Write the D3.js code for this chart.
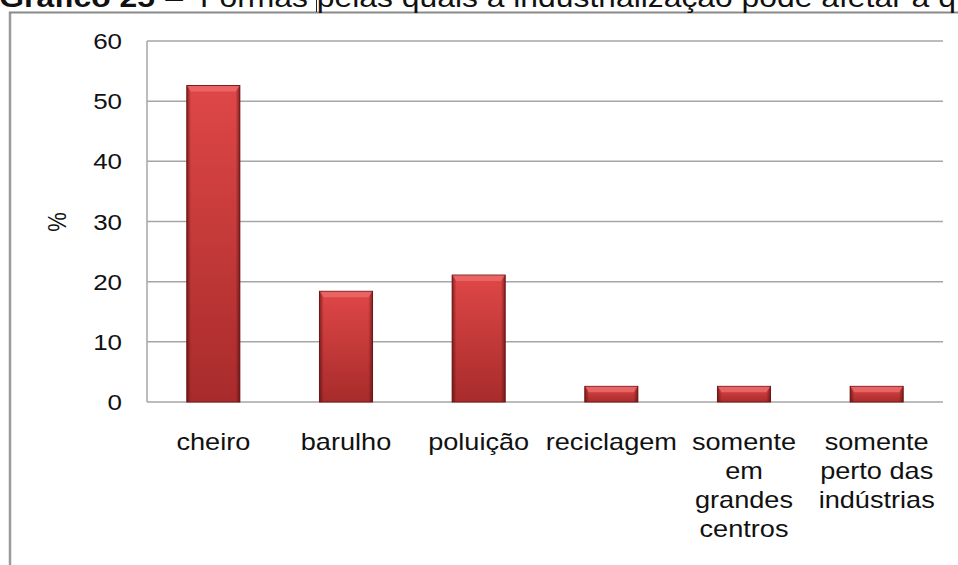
<!DOCTYPE html>
<html><head><meta charset="utf-8">
<script src="https://cdn.jsdelivr.net/npm/d3@7"></script>
<style>body{margin:0;background:#fff}svg{display:block}text{font-family:"Liberation Sans",Arial,sans-serif;fill:#111}</style>
</head><body><svg id="c" width="958" height="565"></svg>
<script>
const categories = ["cheiro","barulho","poluição","reciclagem","somente em grandes centros","somente perto das indústrias"];
const categoryLines = [["cheiro"],["barulho"],["poluição"],["reciclagem"],["somente","em","grandes","centros"],["somente","perto das","indústrias"]];
const values = [52.6, 18.4, 21.1, 2.6, 2.6, 2.6];
const yTicks = [0,10,20,30,40,50,60];
const titleBold = "Gráfico 25";
const titleRest = "Formas pelas quais a industrialização pode afetar a q";

const svg = d3.select("#c");
const SX = 1.18;
const defs = svg.append("defs");
const gv = defs.append("linearGradient").attr("id","gv").attr("x1",0).attr("y1",0).attr("x2",0).attr("y2",1);
gv.append("stop").attr("offset",0).attr("stop-color","#df4747");
gv.append("stop").attr("offset",1).attr("stop-color","#a82b2b");
const gh = defs.append("linearGradient").attr("id","gh").attr("x1",0).attr("y1",0).attr("x2",1).attr("y2",0);
[[0,0.6],[0.08,0],[0.92,0],[1,0.6]].forEach(([o,a])=>gh.append("stop").attr("offset",o).attr("stop-color","#4a0a0a").attr("stop-opacity",a));

// frame
svg.append("line").attr("x1",10).attr("x2",10).attr("y1",12).attr("y2",565).attr("stroke","#9a9a9a").attr("stroke-width",2.5);
svg.append("line").attr("x1",9).attr("x2",958).attr("y1",12.5).attr("y2",12.5).attr("stroke","#8a8a8a").attr("stroke-width",2);
svg.append("line").attr("x1",316.5).attr("x2",316.5).attr("y1",0).attr("y2",12).attr("stroke","#222").attr("stroke-width",1);

// title (cut off at the top edge, as in the reference)
const tg = svg.append("g");
tg.append("text").attr("transform",`translate(155,7) scale(${SX},1)`).attr("text-anchor","end").attr("font-size",27).attr("font-weight","bold").text(titleBold);
tg.append("text").attr("transform",`translate(174,7) scale(${SX},1)`).attr("text-anchor","middle").attr("font-size",27).text("–");
tg.append("text").attr("transform",`translate(200,7) scale(${SX},1)`).attr("font-size",27).text(titleRest);

const x = d3.scaleBand().domain(categories).range([147,943]).paddingInner(0.6).paddingOuter(0.3);
const y = d3.scaleLinear().domain([0,60]).range([402,41]);

// gridlines
svg.append("g").selectAll("line").data(yTicks).join("line")
  .attr("x1",147).attr("x2",943).attr("y1",d=>y(d)).attr("y2",d=>y(d))
  .attr("stroke","#a6a6a6").attr("stroke-width",1.5);
svg.append("line").attr("x1",147).attr("x2",147).attr("y1",y(60)).attr("y2",y(0)).attr("stroke","#a6a6a6").attr("stroke-width",1.5);

// y labels
svg.append("g").selectAll("text").data(yTicks).join("text")
  .attr("transform",d=>`translate(122,${y(d)+8}) scale(${SX},1)`).attr("text-anchor","end").attr("font-size",22).text(d=>d);
svg.append("text").attr("transform",`translate(66,222) rotate(-90) scale(1,${SX})`).attr("text-anchor","middle").attr("font-size",22).text("%");

// bars
const bw = x.bandwidth();
const bars = svg.append("g").selectAll("g").data(categories).join("g");
bars.append("rect").attr("x",d=>x(d)).attr("y",(d,i)=>y(values[i])).attr("width",bw).attr("height",(d,i)=>y(0)-y(values[i]))
  .attr("fill","url(#gv)").attr("stroke","#7a1c1c").attr("stroke-width",1);
bars.append("rect").attr("x",d=>x(d)).attr("y",(d,i)=>y(values[i])).attr("width",bw).attr("height",(d,i)=>y(0)-y(values[i]))
  .attr("fill","url(#gh)");
bars.append("path").attr("d",(d,i)=>{const x0=x(d),y0=y(values[i]),h=Math.min(6,(y(0)-y0)/2.5);return `M${x0+0.5},${y0+0.5}L${x0+bw-0.5},${y0+0.5}L${x0+bw-4},${y0+h}L${x0+4},${y0+h}Z`;})
  .attr("fill","#ec6a6a").attr("opacity",0.85);

// x labels
const xl = svg.append("g").selectAll("g").data(categories).join("g");
xl.each(function(d,i){
  const g=d3.select(this);
  categoryLines[i].forEach((ln,j)=>{
    g.append("text").attr("transform",`translate(${x(d)+bw/2},${450+j*29}) scale(${SX},1)`).attr("text-anchor","middle").attr("font-size",23).text(ln);
  });
});
</script></body></html>
